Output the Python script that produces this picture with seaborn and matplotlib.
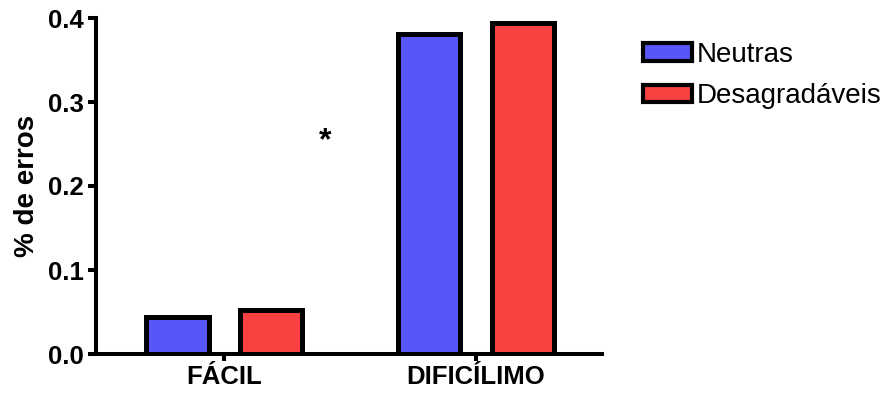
import matplotlib
matplotlib.use("Agg")
import matplotlib.pyplot as plt
import seaborn as sns
import pandas as pd

# Error rates by difficulty level and picture type
conditions = ["FÁCIL", "DIFICÍLIMO"]
groups = ["Neutras", "Desagradáveis"]
neutras = [0.044, 0.381]
desagradaveis = [0.052, 0.394]
y_ticks = [0.0, 0.1, 0.2, 0.3, 0.4]

df = pd.DataFrame({
    "cond": conditions * 2,
    "grupo": [groups[0]] * 2 + [groups[1]] * 2,
    "erros": neutras + desagradaveis,
})

sns.set_style("white")
plt.rcParams["font.family"] = ["Liberation Sans", "DejaVu Sans"]
plt.rcParams["text.color"] = "black"
plt.rcParams["axes.labelcolor"] = "black"

fig = plt.figure(figsize=(8.86, 3.93), dpi=100)
ax = fig.add_axes([96 / 886, 1 - 354 / 393, 506 / 886, (354 - 18) / 393])

palette = {"Neutras": "#5757F9", "Desagradáveis": "#F94141"}
sns.barplot(data=df, x="cond", y="erros", hue="grupo", order=conditions,
            hue_order=groups, palette=palette, width=0.746, gap=0.33,
            edgecolor="black", linewidth=3.6, errorbar=None, ax=ax,
            saturation=1)

ax.set_xlim(-0.508, 1.5)
ax.set_ylim(0, 0.4)
ax.set_yticks(y_ticks)
ax.set_yticklabels([f"{v:.1f}" for v in y_ticks])

for side in ["top", "right"]:
    ax.spines[side].set_visible(False)
for side in ["left", "bottom"]:
    ax.spines[side].set_linewidth(2.9)
    ax.spines[side].set_color("black")

ax.tick_params(axis="y", direction="out", length=6, width=2.9, pad=3,
               labelsize=18.5, left=True, colors="black")
ax.tick_params(axis="x", direction="out", length=5, width=2.9, pad=3,
               labelsize=18.5, bottom=True, colors="black")
for lbl in ax.get_xticklabels() + ax.get_yticklabels():
    lbl.set_fontweight("bold")

ax.set_xlabel("")
ax.set_ylabel("% de erros", fontsize=20, fontweight="bold", color="black")
ax.yaxis.set_label_coords(-0.11, 0.5)

# significance marker between the groups
ax.text(0.40, 0.253, "*", ha="center", va="center", fontsize=23,
        fontweight="bold", color="black")

handles, labels = ax.get_legend_handles_labels()
ax.get_legend().remove()
leg = fig.legend(handles, labels, loc="upper left",
                 bbox_to_anchor=(643 / 886, 1 - 42 / 393),
                 frameon=False, fontsize=20, handlelength=1.75,
                 handleheight=0.6, handletextpad=0.2, labelspacing=0.55,
                 borderpad=0, borderaxespad=0, labelcolor="black")
for h in leg.legend_handles:
    h.set_edgecolor("black")
    h.set_linewidth(3.0)

fig.savefig("out.png", dpi=100)
